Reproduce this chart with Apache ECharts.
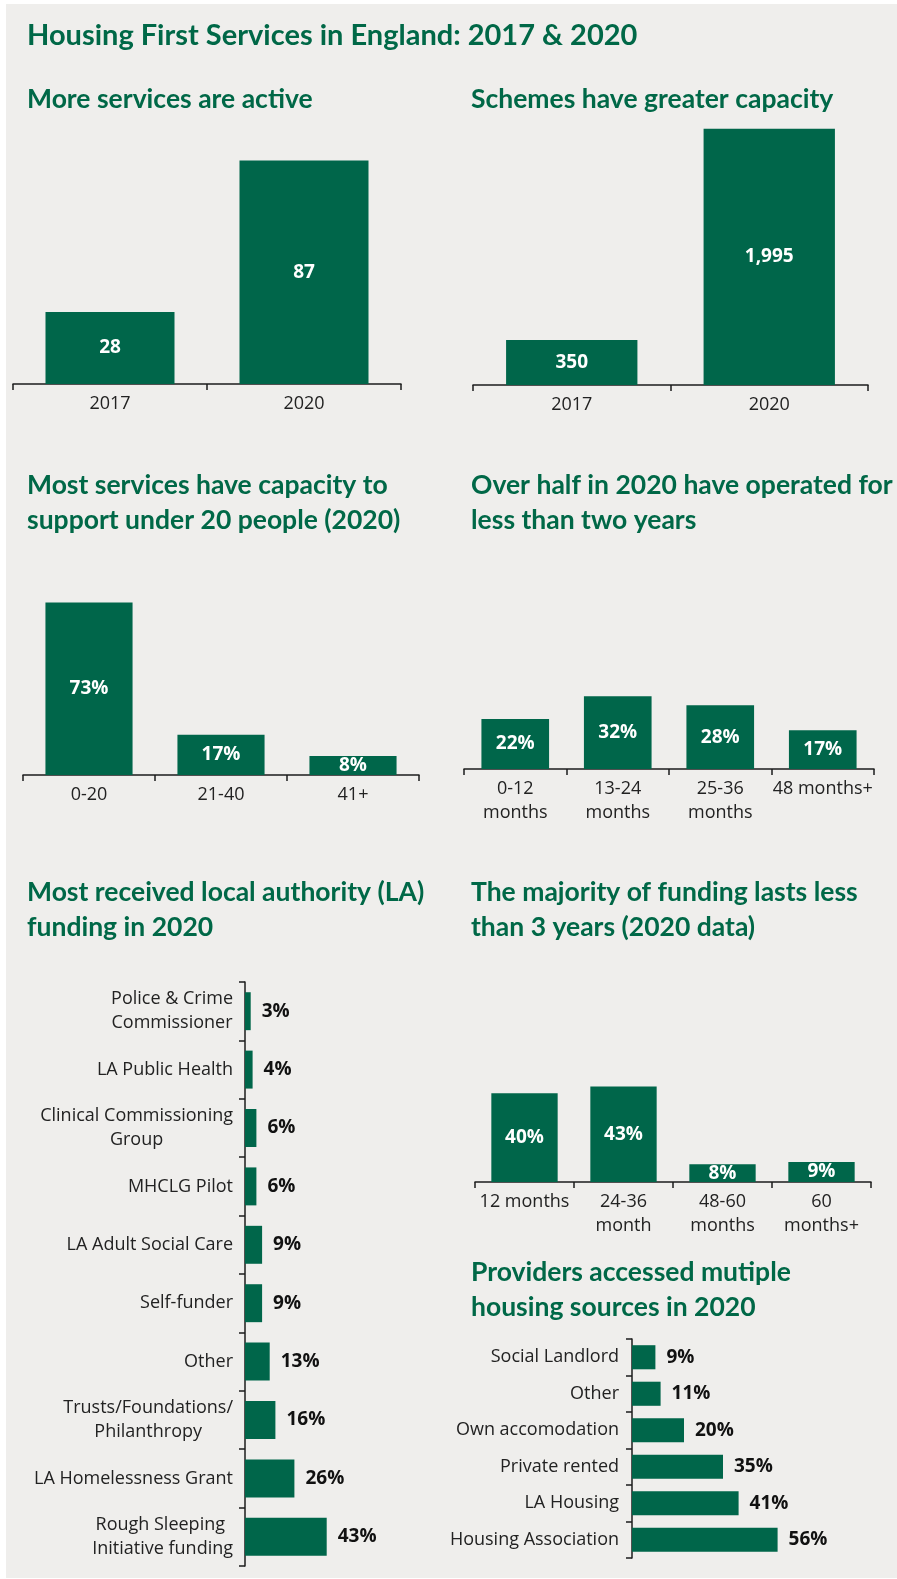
<!DOCTYPE html>
<html>
<head>
<meta charset="utf-8">
<script src="https://cdn.jsdelivr.net/npm/echarts@6/dist/echarts.min.js"></script>
<style>
html,body{margin:0;padding:0;background:#ffffff;}
#bg{position:absolute;left:6px;top:4px;width:891px;height:1574px;background:#efeeec;}
#chart{position:absolute;left:0;top:0;width:897px;height:1579px;}
</style>
</head>
<body>
<div id="bg"></div>
<div id="chart"></div>
<script>
// ---- data ----
const servicesYears = ['2017', '2020'];
const servicesActive = [28, 87];
const schemeYears = ['2017', '2020'];
const schemeCapacity = [350, 1995];
const capacityBands = ['0-20', '21-40', '41+'];
const capacityShare = [73, 17, 8];
const operatedBands = ['0-12\nmonths', '13-24\nmonths', '25-36\nmonths', '48 months+'];
const operatedShare = [22, 32, 28, 17];
const fundingSources = ['Police & Crime\nCommissioner', 'LA Public Health', 'Clinical Commissioning\nGroup', 'MHCLG Pilot', 'LA Adult Social Care', 'Self-funder', 'Other', 'Trusts/Foundations/\nPhilanthropy', 'LA Homelessness Grant', 'Rough Sleeping \nInitiative funding'];
const fundingShare = [3, 4, 6, 6, 9, 9, 13, 16, 26, 43];
const durationBands = ['12 months', '24-36\nmonth', '48-60\nmonths', '60\nmonths+'];
const durationShare = [40, 43, 8, 9];
const housingSources = ['Social Landlord', 'Other', 'Own accomodation', 'Private rented', 'LA Housing', 'Housing Association'];
const housingShare = [9, 11, 20, 35, 41, 56];

const GREEN = '#00664a';
const TITLE_GREEN = '#006847';
const LABEL_FONT = '"Open Sans", "Noto Sans", sans-serif';
const TITLE_FONT = 'Lato, "Open Sans", sans-serif';

const chart = echarts.init(document.getElementById('chart'), null, {renderer: 'canvas'});

function title(text, left, top, size, lh) {
  return {
    text: text, left: left, top: top, padding: 0,
    textStyle: {fontFamily: TITLE_FONT, fontWeight: 'bold', fontSize: size, color: TITLE_GREEN, lineHeight: lh}
  };
}

const axisLineStyle = {show: true, lineStyle: {color: '#1c1c1c', width: 1.5}};
const tickStyle = {show: true, length: 6, lineStyle: {color: '#1c1c1c', width: 1.5}};

function catLabel(margin) {
  return {
    margin: margin,
    color: '#222',
    fontFamily: LABEL_FONT,
    fontSize: 18,
    lineHeight: 24,
    interval: 0,
    formatter: function (v) { return v.split('\n').map(function (l) { return '{c|' + l + '}'; }).join('\n'); },
    rich: {c: {align: 'center', fontFamily: LABEL_FONT, fontSize: 18, lineHeight: 24, color: '#222'}}
  };
}

const grids = [
  {left: 13, top: 127, width: 388, height: 257},   // services
  {left: 473, top: 128, width: 395, height: 257},  // capacity
  {left: 23, top: 586, width: 396, height: 189},   // capacity bands
  {left: 464, top: 678, width: 410, height: 91},   // operated
  {left: 245, top: 982, width: 95, height: 584},   // funding sources
  {left: 475, top: 1071, width: 396, height: 111}, // duration
  {left: 632, top: 1339, width: 156, height: 219}  // housing sources
];

const vCats = [servicesYears, schemeYears, capacityBands, operatedBands, null, durationBands, null];
const vMax = [100, 2000, 80, 40, 50, 50, 60];

const xAxes = [], yAxes = [];
[0, 1, 2, 3, 5].forEach(function (i) {
  xAxes[i] = {gridIndex: i, type: 'category', data: vCats[i], axisLine: axisLineStyle, axisTick: tickStyle, axisLabel: catLabel(8)};
  yAxes[i] = {gridIndex: i, type: 'value', min: 0, max: vMax[i], show: false, splitLine: {show: false}};
});
xAxes[4] = {gridIndex: 4, type: 'value', min: 0, max: vMax[4], show: false, splitLine: {show: false}};
yAxes[4] = {gridIndex: 4, type: 'category', inverse: true, data: fundingSources, axisLine: axisLineStyle, axisTick: tickStyle, axisLabel: catLabel(12)};
xAxes[6] = {gridIndex: 6, type: 'value', min: 0, max: vMax[6], show: false, splitLine: {show: false}};
yAxes[6] = {gridIndex: 6, type: 'category', inverse: true, data: housingSources, axisLine: axisLineStyle, axisTick: tickStyle, axisLabel: catLabel(13)};

function insideLabel(fmt) {
  return {show: true, position: 'inside', color: '#ffffff', fontFamily: LABEL_FONT, fontWeight: 'bold', fontSize: 19, formatter: fmt};
}
function rightLabel() {
  return {show: true, position: 'right', distance: 11, color: '#111', fontFamily: LABEL_FONT, fontWeight: 'bold', fontSize: 19, formatter: '{c}%'};
}
function barSeries(i, data, label, gap) {
  return {type: 'bar', xAxisIndex: i, yAxisIndex: i, data: data, barCategoryGap: gap, itemStyle: {color: GREEN}, label: label, silent: true, animation: false};
}

const series = [
  barSeries(0, servicesActive, insideLabel('{c}'), '33.5%'),
  barSeries(1, schemeCapacity, insideLabel(function (p) { return p.value.toLocaleString('en-US'); }), '33.5%'),
  barSeries(2, capacityShare, insideLabel('{c}%'), '34%'),
  barSeries(3, operatedShare, insideLabel('{c}%'), '34%'),
  barSeries(4, fundingShare, rightLabel(), '35%'),
  barSeries(5, durationShare, insideLabel('{c}%'), '33%'),
  barSeries(6, housingShare, rightLabel(), '34%')
];

chart.setOption({
  animation: false,
  title: [
    title('Housing First Services in England: 2017 & 2020', 27, 21, 29, 30),
    title('More services are active', 27, 82, 26.5, 35),
    title('Schemes have greater capacity', 471, 82, 26.5, 35),
    title('Most services have capacity to\nsupport under 20 people (2020)', 27, 468, 26.5, 35),
    title('Over half in 2020 have operated for\nless than two years', 471, 468, 26.5, 35),
    title('Most received local authority (LA)\nfunding in 2020', 27, 875, 26.5, 35),
    title('The majority of funding lasts less\nthan 3 years (2020 data)', 471, 875, 26.5, 35),
    title('Providers accessed mutiple\nhousing sources in 2020', 471, 1255, 26.5, 35)
  ],
  grid: grids,
  xAxis: xAxes,
  yAxis: yAxes,
  series: series
});
</script>
</body>
</html>
